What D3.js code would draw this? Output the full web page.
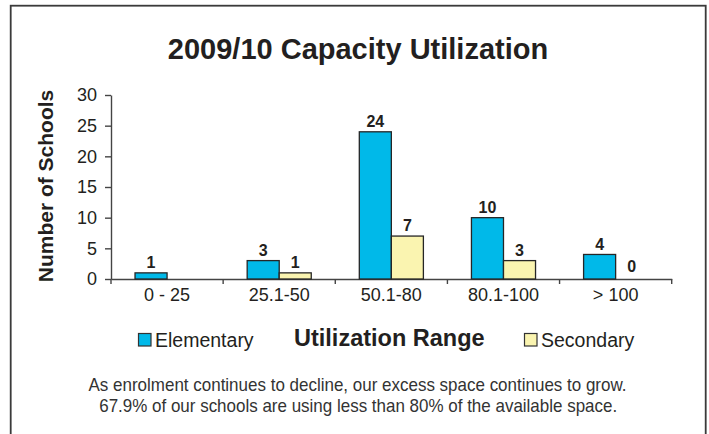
<!DOCTYPE html>
<html>
<head>
<meta charset="utf-8">
<title>2009/10 Capacity Utilization</title>
<script src="https://d3js.org/d3.v7.min.js"></script>
<style>
  body { margin: 0; background: #fff; }
  text { font-family: "Liberation Sans", Arial, Helvetica, sans-serif; fill: #231f20; }
  .note { font-family: "Liberation Sans Narrow", "Arial Narrow", "Liberation Sans", Arial, sans-serif; fill: #333; }
  .axis path, .axis line { stroke: #444; stroke-width: 1.4; }
</style>
</head>
<body>
<script>
//chart data
var categories = ['0 - 25', '25.1-50', '50.1-80', '80.1-100', '> 100'];
var series = ['Elementary', 'Secondary'];
var elementary = [1, 3, 24, 10, 4];
var secondary = [null, 1, 7, 3, 0];
var yTicks = [0, 5, 10, 15, 20, 25, 30];
var notes = [
  'As enrolment continues to decline, our excess space continues to grow.',
  '67.9% of our schools are using less than 80% of the available space.'
];

//execute script when window is loaded
window.onload = setChart;

function setChart(){
    //frame dimensions
    var width = 709,
        height = 434;

    var colors = {Elementary: '#00b9e9', Secondary: '#faf4b0'};

    var svg = d3.select('body')
        .append('svg')
        .attr('width', width)
        .attr('height', height);

    //outer frame, runs off the bottom edge
    svg.append('rect')
        .attr('x', 10.7)
        .attr('y', 5.7)
        .attr('width', 695)
        .attr('height', 500)
        .attr('fill', 'none')
        .attr('stroke', '#3a3a3a')
        .attr('stroke-width', 1.8);

    //title
    svg.append('text')
        .attr('x', 358)
        .attr('y', 59.3)
        .attr('text-anchor', 'middle')
        .style('font-size', '29px')
        .style('font-weight', 'bold')
        .text('2009/10 Capacity Utilization');

    //scales
    var x = d3.scaleBand()
        .domain(categories)
        .range([111, 671.7]);

    var xSub = d3.scaleBand()
        .domain(series)
        .range([0, x.bandwidth()])
        .paddingOuter(0.75);

    var y = d3.scaleLinear()
        .domain([0, 30])
        .range([279, 95]);

    //y axis
    svg.append('g')
        .attr('class', 'axis')
        .attr('transform', 'translate(111,0)')
        .call(d3.axisLeft(y).tickValues(yTicks).tickSizeInner(6).tickSizeOuter(0).tickPadding(8))
        .call(function(g){
            g.selectAll('text')
                .style('font-size', '18px')
                .style('font-family', '"Liberation Sans", Arial, sans-serif')
                .attr('fill', '#231f20');
        });

    //x axis, labels centred in each band
    var xAxis = svg.append('g')
        .attr('class', 'axis')
        .attr('transform', 'translate(0,279)')
        .call(d3.axisBottom(x).tickSize(0).tickSizeOuter(0).tickPadding(9));

    xAxis.selectAll('text')
        .style('font-size', '18px')
        .style('font-family', '"Liberation Sans", Arial, sans-serif')
        .attr('fill', '#231f20');

    //tick marks sit on the category boundaries
    var edges = categories.map(function(c){ return x(c); }).concat([x.range()[1]]);
    xAxis.selectAll('.edge')
        .data(edges)
        .enter()
        .append('line')
        .attr('class', 'edge')
        .attr('x1', function(d){ return d; })
        .attr('x2', function(d){ return d; })
        .attr('y1', 0)
        .attr('y2', 5);

    //flatten values into one row per bar
    var rows = [];
    categories.forEach(function(c, i){
        rows.push({cat: c, key: 'Elementary', value: elementary[i]});
        rows.push({cat: c, key: 'Secondary', value: secondary[i]});
    });
    rows = rows.filter(function(d){ return d.value !== null; });

    //bars
    svg.selectAll('.bar')
        .data(rows.filter(function(d){ return d.value > 0; }))
        .enter()
        .append('rect')
        .attr('class', 'bar')
        .attr('x', function(d){ return x(d.cat) + xSub(d.key); })
        .attr('y', function(d){ return y(d.value); })
        .attr('width', xSub.bandwidth())
        .attr('height', function(d){ return y(0) - y(d.value); })
        .attr('fill', function(d){ return colors[d.key]; })
        .attr('stroke', '#262626')
        .attr('stroke-width', 1.3);

    //value labels
    svg.selectAll('.val')
        .data(rows)
        .enter()
        .append('text')
        .attr('class', 'val')
        .attr('x', function(d){ return x(d.cat) + xSub(d.key) + xSub.bandwidth() / 2; })
        .attr('y', function(d){ return y(d.value) - (d.value === 0 ? 7.3 : 4.6); })
        .attr('text-anchor', 'middle')
        .style('font-size', '16px')
        .style('font-weight', 'bold')
        .text(function(d){ return d.value; });

    //y axis title
    svg.append('text')
        .attr('transform', 'translate(53,186) rotate(-90)')
        .attr('text-anchor', 'middle')
        .style('font-size', '21px')
        .style('font-weight', 'bold')
        .text('Number of Schools');

    //legend with the x axis title in the middle
    var legend = [
        {key: 'Elementary', box: 138.5, label: 155},
        {key: 'Secondary', box: 524.5, label: 541}
    ];

    legend.forEach(function(l){
        svg.append('rect')
            .attr('x', l.box)
            .attr('y', 333.5)
            .attr('width', 12.5)
            .attr('height', 12.5)
            .attr('fill', colors[l.key])
            .attr('stroke', '#333')
            .attr('stroke-width', 1.2);
        svg.append('text')
            .attr('x', l.label)
            .attr('y', 346.6)
            .style('font-size', '19.5px')
            .text(l.key);
    });

    svg.append('text')
        .attr('x', 294)
        .attr('y', 346.3)
        .style('font-size', '23.5px')
        .style('font-weight', 'bold')
        .text('Utilization Range');

    //footnote
    var noteLines = [
        {x: 357.5, y: 391, len: 538},
        {x: 358.2, y: 411.8, len: 518}
    ];
    svg.selectAll('.note')
        .data(notes)
        .enter()
        .append('text')
        .attr('class', 'note')
        .attr('x', function(d, i){ return noteLines[i].x; })
        .attr('y', function(d, i){ return noteLines[i].y; })
        .attr('text-anchor', 'middle')
        .attr('textLength', function(d, i){ return noteLines[i].len; })
        .attr('lengthAdjust', 'spacingAndGlyphs')
        .style('font-size', '18.5px')
        .text(function(d){ return d; });
};
</script>
</body>
</html>
